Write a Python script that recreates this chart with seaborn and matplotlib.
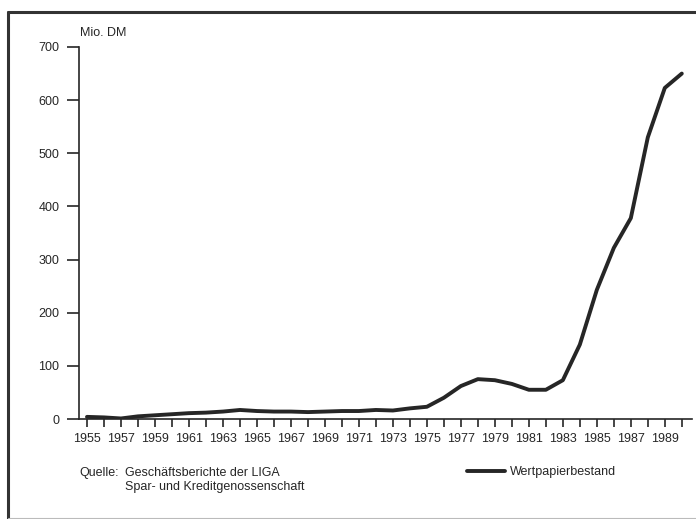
import numpy as np
import pandas as pd
import seaborn as sns
import matplotlib.pyplot as plt
from matplotlib.lines import Line2D

sns.set_style("ticks")
plt.rcParams['font.family'] = ['Liberation Sans', 'DejaVu Sans']

# Wertpapierbestand der LIGA, Mio. DM
years = list(range(1955, 1991))
values = [4, 3, 1, 5, 7, 9, 11, 12, 14, 17,
          15, 14, 14, 13, 14, 15, 15, 17, 16, 20,
          23, 40, 62, 75, 73, 66, 55, 55, 73, 140,
          243, 322, 378, 530, 623, 650]
series_label = "Wertpapierbestand"
ytick_vals = [0, 100, 200, 300, 400, 500, 600, 700]
xtick_labels = [str(y) if y % 2 == 1 else "" for y in years]

df = pd.DataFrame({"Jahr": years, "Wert": values})

W, H = 696, 519
fig = plt.figure(figsize=(W / 100, H / 100), dpi=100)
ax = fig.add_axes([79 / W, 1 - 419 / H, (692 - 79) / W, (419 - 47) / H])

ink = "#262626"
sns.lineplot(data=df, x="Jahr", y="Wert", ax=ax, color=ink, linewidth=2.8,
             label=series_label)

ax.set_xlim(1954.53, 1990.6)
ax.set_ylim(0, 700)
ax.set_xticks(years)
ax.set_xticklabels(xtick_labels)
ax.set_yticks(ytick_vals)
ax.set_xlabel("")
ax.set_ylabel("")
sns.despine(ax=ax)
for s in ["left", "bottom"]:
    ax.spines[s].set_linewidth(1.2)
    ax.spines[s].set_color(ink)
ax.tick_params(axis="y", length=9, width=1.2, pad=5, labelsize=9, color=ink)
ax.tick_params(axis="x", length=6, width=1.2, pad=4, labelsize=9, color=ink)

ax.get_legend().remove()
fig.legend(handles=ax.get_lines()[:1], labels=[series_label], loc="center left",
           bbox_to_anchor=(467 / W, 1 - 472 / H), frameon=False, fontsize=9,
           borderpad=0, borderaxespad=0, handlelength=3.0, handletextpad=0.45)

fig.text(80 / W, 1 - 33 / H, "Mio. DM", fontsize=9, va="center", color=ink)
fig.text(79 / W, 1 - 473 / H, "Quelle:", fontsize=9, va="center", color=ink)
fig.text(125 / W, 1 - 473 / H, "Geschäftsberichte der LIGA", fontsize=9,
         va="center", color=ink)
fig.text(125 / W, 1 - 487 / H, "Spar- und Kreditgenossenschaft", fontsize=9,
         va="center", color=ink)

# scanned frame lines
fig.add_artist(Line2D([8 / W, 8 / W], [0, 1 - 12 / H], transform=fig.transFigure,
                      color="#333333", linewidth=2.2))
fig.add_artist(Line2D([8 / W, 1], [1 - 12 / H, 1 - 12 / H], transform=fig.transFigure,
                      color="#333333", linewidth=2.2))
fig.add_artist(Line2D([8 / W, 1], [1 / H, 1 / H], transform=fig.transFigure,
                      color="#bbbbbb", linewidth=0.8))

fig.savefig("out.png", dpi=100)
